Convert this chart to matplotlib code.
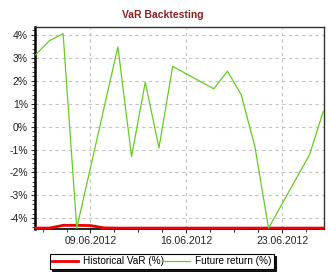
import matplotlib
matplotlib.use("Agg")
import matplotlib.pyplot as plt
import matplotlib.dates as mdates
from matplotlib.ticker import MultipleLocator, FuncFormatter, FixedLocator
import datetime as dt

plt.rcParams['font.family'] = ['Liberation Sans', 'DejaVu Sans']

# trading days for future return
ret_dates = ["2012-06-05", "2012-06-06", "2012-06-07", "2012-06-08", "2012-06-11",
             "2012-06-12", "2012-06-13", "2012-06-14", "2012-06-15", "2012-06-18",
             "2012-06-19", "2012-06-20", "2012-06-21", "2012-06-22", "2012-06-25",
             "2012-06-26"]
future_return = [3.14, 3.75, 4.06, -4.43, 3.48, -1.30, 1.94, -0.93, 2.63, 1.65,
                 2.42, 1.40, -0.86, -4.43, -1.22, 0.67]

var_dates = ["2012-06-05", "2012-06-06", "2012-06-07", "2012-06-08", "2012-06-09",
             "2012-06-10", "2012-06-11", "2012-06-26"]
hist_var = [-4.43, -4.43, -4.31, -4.31, -4.32, -4.42, -4.43, -4.43]

x_major = ["2012-06-09", "2012-06-16", "2012-06-23"]
y_ticks = [-4, -3, -2, -1, 0, 1, 2, 3, 4]

def d(s):
    return dt.datetime.strptime(s, "%Y-%m-%d")

fig = plt.figure(figsize=(3.28, 2.72), dpi=100)
ax = fig.add_axes([35/328, 1-229/272, (324-35)/328, (229-27)/272])

xr = [mdates.date2num(d(s)) for s in ret_dates]
xv = [mdates.date2num(d(s)) for s in var_dates]
xm = [mdates.date2num(d(s)) for s in x_major]

ax.plot(xv, hist_var, color='#ee0000', lw=2.0, zorder=3, clip_on=False, label='Historical VaR (%)')
ax.plot(xr, future_return, color='#66cc22', lw=0.9, zorder=4, label='Future return (%)')

ax.set_xlim(mdates.date2num(d("2012-06-05")) - 0.05, mdates.date2num(d("2012-06-26")) + 0.05)
ax.set_ylim(-4.47, 4.35)

ax.xaxis.set_major_locator(FixedLocator(xm))
ax.xaxis.set_major_formatter(mdates.DateFormatter("%d.%m.%Y"))
minors = []
for m in xm:
    for k in range(-4, 5):
        minors.append(m + k * 1.75)
ax.xaxis.set_minor_locator(FixedLocator(minors))
ax.yaxis.set_major_locator(FixedLocator(y_ticks))
ax.yaxis.set_minor_locator(MultipleLocator(0.2))
ax.yaxis.set_major_formatter(FuncFormatter(lambda v, p: f"{int(round(v))}%"))

ax.grid(True, which='major', color='#c4c4c4', linestyle=(0, (3, 3)), linewidth=0.8)
ax.set_axisbelow(True)

ax.tick_params(axis='both', which='major', labelsize=7.5, length=3, width=0.8, color='#333333', labelcolor='#222222', pad=2)
ax.tick_params(axis='both', which='minor', length=2, width=0.6, color='#333333')

ax.spines['left'].set_linewidth(1.8)
ax.spines['left'].set_color('black')
ax.spines['bottom'].set_linewidth(1.2)
ax.spines['bottom'].set_color('black')
for s in ['top', 'right']:
    ax.spines[s].set_linewidth(1.0)
    ax.spines[s].set_color('#333333')

fig.text(163/328, 1-15/272, "VaR Backtesting", ha='center', va='center', fontsize=7.5,
         fontweight='bold', color='#8b2222')

leg = fig.legend(loc='center', bbox_to_anchor=(162/328, 1-261/272), ncol=2, fontsize=7.2,
                 frameon=True, fancybox=False, shadow={'ox': 1.5, 'oy': -1.5, 'color': 'black', 'alpha': 0.9},
                 borderpad=0.25, handlelength=2.6,
                 columnspacing=0.0, handletextpad=0.5, borderaxespad=0)
leg.get_frame().set_edgecolor('black')
leg.get_frame().set_linewidth(0.8)

fig.savefig("out.png", dpi=100)
